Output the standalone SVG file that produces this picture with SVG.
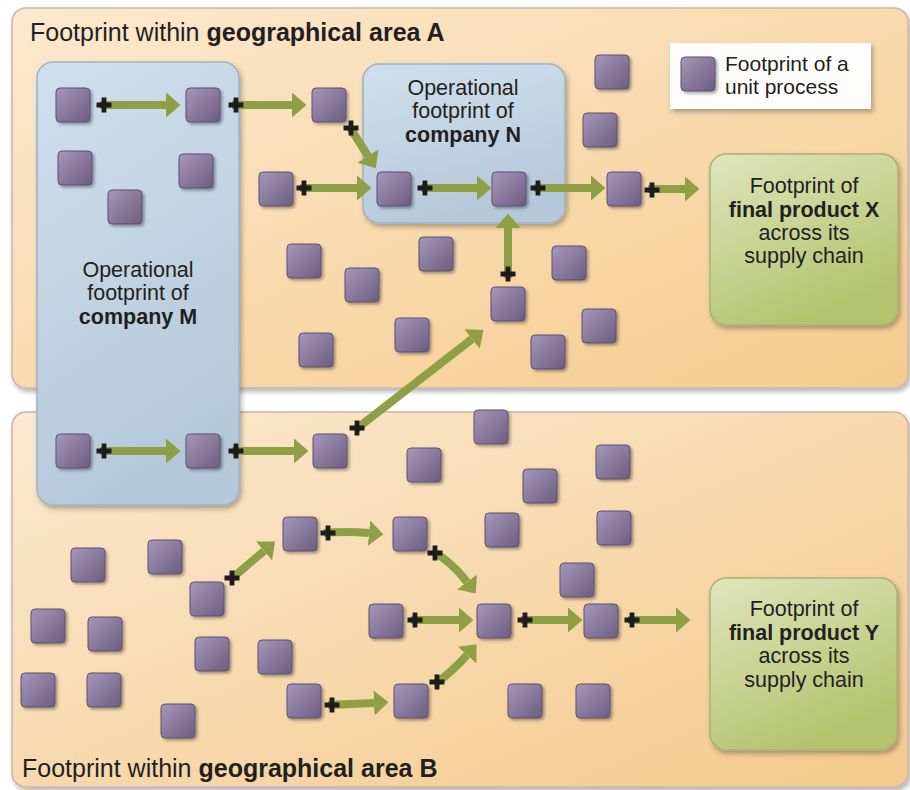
<svg xmlns="http://www.w3.org/2000/svg" xmlns:xlink="http://www.w3.org/1999/xlink" width="910" height="790" viewBox="0 0 910 790">
<style>
  text { font-family: "Liberation Sans", Arial, sans-serif; fill: #231f20; }
  .big { font-size: 25px; }
  .lbl { font-size: 21.5px; }
  .leg { font-size: 21px; }
  .b { font-weight: bold; }
  .mid { text-anchor: middle; }
  .area { stroke: #c9b5b0; stroke-width: 1.5; filter: url(#shadow); }
  .comp { fill: url(#blue); stroke: #9db2c8; stroke-width: 1.5; filter: url(#shadow); }
  .final { fill: url(#green); stroke: #a6b27a; stroke-width: 1.5; filter: url(#shadow); }
  .sq { fill: url(#purple); stroke: #5e5071; stroke-width: 1; filter: url(#sshadow); }
  .arr { fill: none; stroke: #8f9f45; stroke-width: 8; marker-end: url(#head); }
  .plus { fill: none; stroke: #1c1c1c; stroke-width: 4.8; }
</style>
<defs>
  <linearGradient id="peachA" x1="0" y1="0" x2="1" y2="1">
    <stop offset="0" stop-color="#fce9cf"/>
    <stop offset="1" stop-color="#f5cb8d"/>
  </linearGradient>
  <linearGradient id="peachB" x1="0" y1="0" x2="1" y2="1">
    <stop offset="0" stop-color="#fbe9d0"/>
    <stop offset="1" stop-color="#f4c98b"/>
  </linearGradient>
  <linearGradient id="blue" x1="0" y1="0" x2="0.3" y2="1">
    <stop offset="0" stop-color="#d0dfec"/>
    <stop offset="1" stop-color="#b6c9da"/>
  </linearGradient>
  <linearGradient id="green" x1="0" y1="0" x2="0.5" y2="1">
    <stop offset="0" stop-color="#dfe5bd"/>
    <stop offset="1" stop-color="#b3c36e"/>
  </linearGradient>
  <linearGradient id="purple" x1="0" y1="0" x2="1" y2="1">
    <stop offset="0" stop-color="#a697bb"/>
    <stop offset="1" stop-color="#6c5d80"/>
  </linearGradient>
  <filter id="shadow" x="-5%" y="-5%" width="115%" height="115%">
    <feDropShadow dx="2" dy="3" stdDeviation="2.5" flood-color="#000" flood-opacity="0.3"/>
  </filter>
  <filter id="sshadow" x="-20%" y="-20%" width="150%" height="150%">
    <feDropShadow dx="2" dy="2" stdDeviation="1.5" flood-color="#000" flood-opacity="0.35"/>
  </filter>
  <marker id="head" markerUnits="userSpaceOnUse" markerWidth="16" markerHeight="26" refX="0" refY="12.5" orient="auto" viewBox="0 0 16 26">
    <path d="M0,0 L14.5,12.5 L0,25 Z" fill="#8f9f45"/>
  </marker>
  <path id="plus" d="M-7.5,0 H7.5 M0,-7.5 V7.5"/>
</defs>

<rect width="910" height="790" fill="#ffffff"/>

<g id="areaA">
  <rect class="area" x="12" y="8" width="896" height="380" rx="14" fill="url(#peachA)"/>
  <text class="big" x="30" y="41">Footprint within <tspan class="b">geographical area A</tspan></text>
</g>
<g id="areaB">
  <rect class="area" x="12" y="412" width="896" height="375" rx="14" fill="url(#peachB)"/>
  <text class="big" x="22" y="777">Footprint within <tspan class="b">geographical area B</tspan></text>
</g>

<g id="companyM">
  <rect class="comp" x="37" y="62" width="202" height="443" rx="16"/>
  <text class="lbl mid" x="138" y="277">Operational</text>
  <text class="lbl mid" x="138" y="300">footprint of</text>
  <text class="lbl mid b" x="138" y="324">company M</text>
</g>
<g id="companyN">
  <rect class="comp" x="363" y="64" width="202" height="159" rx="16"/>
  <text class="lbl mid" x="463" y="95">Operational</text>
  <text class="lbl mid" x="463" y="118">footprint of</text>
  <text class="lbl mid b" x="463" y="142">company N</text>
</g>

<g id="legend">
  <rect x="670" y="43" width="201" height="66" fill="#fffdfb" filter="url(#shadow)"/>
  <rect class="sq" x="681" y="57" width="34" height="34" rx="4"/>
  <text class="leg" x="725" y="71">Footprint of a</text>
  <text class="leg" x="725" y="94">unit process</text>
</g>

<g id="productX">
  <rect class="final" x="710" y="154" width="188" height="171" rx="16"/>
  <text class="lbl mid" x="804" y="193">Footprint of</text>
  <text class="lbl mid b" x="804" y="217">final product X</text>
  <text class="lbl mid" x="804" y="240">across its</text>
  <text class="lbl mid" x="804" y="263">supply chain</text>
</g>
<g id="productY">
  <rect class="final" x="710" y="578" width="187" height="172" rx="16"/>
  <text class="lbl mid" x="804" y="616">Footprint of</text>
  <text class="lbl mid b" x="804" y="640">final product Y</text>
  <text class="lbl mid" x="804" y="663">across its</text>
  <text class="lbl mid" x="804" y="687">supply chain</text>
</g>

<g id="unitProcesses">
  <g id="p-a1"><rect class="sq" x="56" y="88" width="34" height="34" rx="4"/></g>
  <g id="p-a2"><rect class="sq" x="186" y="88" width="34" height="34" rx="4"/></g>
  <g id="p-a3"><rect class="sq" x="312" y="88" width="34" height="34" rx="4"/></g>
  <g id="p-a4"><rect class="sq" x="58" y="151" width="34" height="34" rx="4"/></g>
  <g id="p-a5"><rect class="sq" x="179" y="154" width="34" height="34" rx="4"/></g>
  <g id="p-a6"><rect class="sq" x="108" y="190" width="34" height="34" rx="4"/></g>
  <g id="p-a7"><rect class="sq" x="259" y="172" width="34" height="34" rx="4"/></g>
  <g id="p-n1"><rect class="sq" x="377" y="172" width="34" height="34" rx="4"/></g>
  <g id="p-n2"><rect class="sq" x="492" y="172" width="34" height="34" rx="4"/></g>
  <g id="p-a8"><rect class="sq" x="595" y="55" width="34" height="34" rx="4"/></g>
  <g id="p-a9"><rect class="sq" x="583" y="113" width="34" height="34" rx="4"/></g>
  <g id="p-a10"><rect class="sq" x="607" y="172" width="34" height="34" rx="4"/></g>
  <g id="p-a11"><rect class="sq" x="287" y="244" width="34" height="34" rx="4"/></g>
  <g id="p-a12"><rect class="sq" x="419" y="237" width="34" height="34" rx="4"/></g>
  <g id="p-a13"><rect class="sq" x="345" y="268" width="34" height="34" rx="4"/></g>
  <g id="p-a14"><rect class="sq" x="552" y="246" width="34" height="34" rx="4"/></g>
  <g id="p-a15"><rect class="sq" x="491" y="287" width="34" height="34" rx="4"/></g>
  <g id="p-a16"><rect class="sq" x="395" y="318" width="34" height="34" rx="4"/></g>
  <g id="p-a17"><rect class="sq" x="299" y="333" width="34" height="34" rx="4"/></g>
  <g id="p-a18"><rect class="sq" x="582" y="309" width="34" height="34" rx="4"/></g>
  <g id="p-a19"><rect class="sq" x="531" y="335" width="34" height="34" rx="4"/></g>
  <g id="p-m1"><rect class="sq" x="56" y="434" width="34" height="34" rx="4"/></g>
  <g id="p-m2"><rect class="sq" x="186" y="434" width="34" height="34" rx="4"/></g>
  <g id="p-b1"><rect class="sq" x="313" y="434" width="34" height="34" rx="4"/></g>
  <g id="p-b2"><rect class="sq" x="474" y="410" width="34" height="34" rx="4"/></g>
  <g id="p-b3"><rect class="sq" x="407" y="448" width="34" height="34" rx="4"/></g>
  <g id="p-b4"><rect class="sq" x="596" y="445" width="34" height="34" rx="4"/></g>
  <g id="p-b5"><rect class="sq" x="523" y="469" width="34" height="34" rx="4"/></g>
  <g id="p-b6"><rect class="sq" x="283" y="517" width="34" height="34" rx="4"/></g>
  <g id="p-b7"><rect class="sq" x="393" y="517" width="34" height="34" rx="4"/></g>
  <g id="p-b8"><rect class="sq" x="485" y="513" width="34" height="34" rx="4"/></g>
  <g id="p-b9"><rect class="sq" x="597" y="511" width="34" height="34" rx="4"/></g>
  <g id="p-b10"><rect class="sq" x="560" y="563" width="34" height="34" rx="4"/></g>
  <g id="p-b11"><rect class="sq" x="190" y="582" width="34" height="34" rx="4"/></g>
  <g id="p-b12"><rect class="sq" x="369" y="604" width="34" height="34" rx="4"/></g>
  <g id="p-b13"><rect class="sq" x="477" y="604" width="34" height="34" rx="4"/></g>
  <g id="p-b14"><rect class="sq" x="584" y="604" width="34" height="34" rx="4"/></g>
  <g id="p-b15"><rect class="sq" x="195" y="637" width="34" height="34" rx="4"/></g>
  <g id="p-b16"><rect class="sq" x="258" y="640" width="34" height="34" rx="4"/></g>
  <g id="p-b17"><rect class="sq" x="287" y="684" width="34" height="34" rx="4"/></g>
  <g id="p-b18"><rect class="sq" x="394" y="684" width="34" height="34" rx="4"/></g>
  <g id="p-b19"><rect class="sq" x="508" y="684" width="34" height="34" rx="4"/></g>
  <g id="p-b20"><rect class="sq" x="576" y="684" width="34" height="34" rx="4"/></g>
  <g id="p-b21"><rect class="sq" x="71" y="548" width="34" height="34" rx="4"/></g>
  <g id="p-b22"><rect class="sq" x="148" y="540" width="34" height="34" rx="4"/></g>
  <g id="p-b23"><rect class="sq" x="31" y="609" width="34" height="34" rx="4"/></g>
  <g id="p-b24"><rect class="sq" x="88" y="617" width="34" height="34" rx="4"/></g>
  <g id="p-b25"><rect class="sq" x="21" y="673" width="34" height="34" rx="4"/></g>
  <g id="p-b26"><rect class="sq" x="87" y="673" width="34" height="34" rx="4"/></g>
  <g id="p-b27"><rect class="sq" x="161" y="704" width="34" height="34" rx="4"/></g>
</g>

<g id="connectors">
  <path class="arr" d="M100,105 H166"/>
  <path class="arr" d="M232,105 H292"/>
  <path class="arr" d="M349,126 L368,156"/>
  <path class="arr" d="M300,188 H357"/>
  <path class="arr" d="M421,188 H477"/>
  <path class="arr" d="M534,188 H591"/>
  <path class="arr" d="M648,189 H685"/>
  <path class="arr" d="M508,278 V228"/>
  <path class="arr" d="M355,430 L472,339"/>
  <path class="arr" d="M100,451 H166"/>
  <path class="arr" d="M232,451 H294"/>
  <path class="arr" d="M230,580 L264,551"/>
  <path class="arr" d="M324,533 Q346,531 369,533"/>
  <path class="arr" d="M432,551 Q452,562 467,582"/>
  <path class="arr" d="M411,620 H459"/>
  <path class="arr" d="M521,620 H568"/>
  <path class="arr" d="M628,620 H676"/>
  <path class="arr" d="M328,705 Q352,704 374,703"/>
  <path class="arr" d="M435,684 Q452,672 467,655"/>
  <g class="plus">
    <use href="#plus" x="104" y="105"/>
    <use href="#plus" x="236" y="105"/>
    <use href="#plus" x="351" y="128"/>
    <use href="#plus" x="304" y="188"/>
    <use href="#plus" x="425" y="188"/>
    <use href="#plus" x="538" y="188"/>
    <use href="#plus" x="652" y="190"/>
    <use href="#plus" x="508" y="274"/>
    <use href="#plus" x="357" y="428"/>
    <use href="#plus" x="104" y="451"/>
    <use href="#plus" x="236" y="451"/>
    <use href="#plus" x="232" y="578"/>
    <use href="#plus" x="328" y="533"/>
    <use href="#plus" x="435" y="553"/>
    <use href="#plus" x="415" y="620"/>
    <use href="#plus" x="525" y="620"/>
    <use href="#plus" x="632" y="620"/>
    <use href="#plus" x="332" y="705"/>
    <use href="#plus" x="437" y="682"/>
  </g>
</g>
</svg>
